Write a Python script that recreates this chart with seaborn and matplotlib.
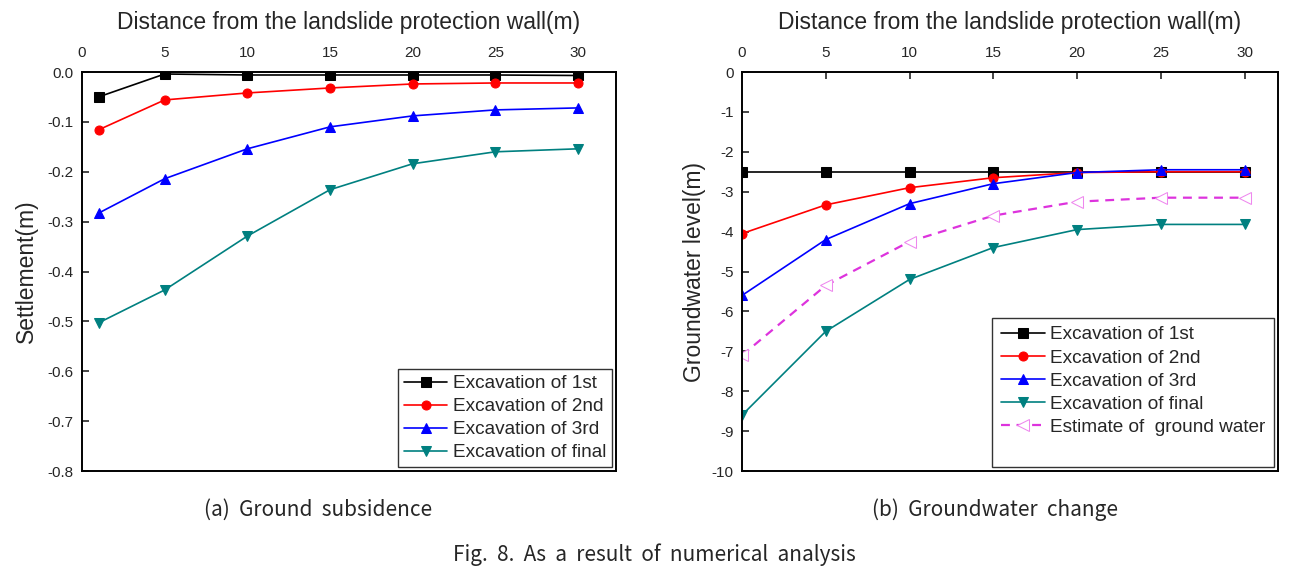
import matplotlib
matplotlib.use('Agg')
import matplotlib.pyplot as plt
import seaborn as sns

# dados
x_settle = [1, 5, 10, 15, 20, 25, 30]
settle_1st = [-0.050, -0.004, -0.006, -0.006, -0.006, -0.006, -0.007]
settle_2nd = [-0.116, -0.056, -0.042, -0.032, -0.024, -0.022, -0.022]
settle_3rd = [-0.283, -0.214, -0.154, -0.110, -0.088, -0.076, -0.072]
settle_final = [-0.503, -0.437, -0.329, -0.236, -0.184, -0.160, -0.154]

x_gw = [0, 5, 10, 15, 20, 25, 30]
gw_1st = [-2.5, -2.5, -2.5, -2.5, -2.5, -2.5, -2.5]
gw_2nd = [-4.05, -3.33, -2.90, -2.65, -2.52, -2.50, -2.50]
gw_3rd = [-5.60, -4.20, -3.30, -2.80, -2.52, -2.45, -2.45]
gw_final = [-8.60, -6.50, -5.20, -4.40, -3.95, -3.82, -3.82]
gw_estimate = [-7.10, -5.35, -4.25, -3.60, -3.25, -3.15, -3.15]

labels = ['Excavation of 1st', 'Excavation of 2nd', 'Excavation of 3rd', 'Excavation of final']
cores = ['black', '#ff0000', '#0000ff', '#008080']
marcadores = ['s', 'o', '^', 'v']

sns.set_style('white')
plt.rcParams['font.family'] = ['Liberation Sans', 'DejaVu Sans']
plt.rcParams['axes.unicode_minus'] = False

fig = plt.figure(figsize=(13.08, 5.74), dpi=100)
ax1 = fig.add_axes([82 / 1308, 1 - 471 / 574, 534 / 1308, 399 / 574])
ax2 = fig.add_axes([742 / 1308, 1 - 471 / 574, 536 / 1308, 399 / 574])

# (a) recalque
for serie, lab, cor, mk in zip([settle_1st, settle_2nd, settle_3rd, settle_final], labels, cores, marcadores):
    sns.lineplot(x=x_settle, y=serie, ax=ax1, color=cor, marker=mk, markersize=6.5,
                 markeredgecolor=cor, linewidth=1.2, label=lab)

# (b) nivel da agua
for serie, lab, cor, mk in zip([gw_1st, gw_2nd, gw_3rd, gw_final], labels, cores, marcadores):
    sns.lineplot(x=x_gw, y=serie, ax=ax2, color=cor, marker=mk, markersize=6.5,
                 markeredgecolor=cor, linewidth=1.2, label=lab)
sns.lineplot(x=x_gw, y=gw_estimate, ax=ax2, color='#dd33dd', marker='<', markersize=8,
             markerfacecolor='white', markeredgecolor='#ee88ee', linewidth=1.6,
             linestyle=(0, (4, 3)), label='Estimate of  ground water')

for ax in (ax1, ax2):
    ax.xaxis.tick_top()
    ax.xaxis.set_label_position('top')
    ax.set_xticks([0, 5, 10, 15, 20, 25, 30])
    ax.tick_params(axis='both', direction='in', length=5, width=1.2, labelsize=11,
                   top=True, bottom=False, left=True, right=False, pad=6)
    ax.tick_params(axis='x', pad=9)
    for s in ax.spines.values():
        s.set_color('black')
        s.set_linewidth(1.4)
    ax.set_xlabel('Distance from the landslide protection wall(m)', fontsize=16.5, labelpad=12)

ax1.set_xlim(0, 32.3)
ax1.set_ylim(-0.8, 0.0)
ax1.set_yticks([0.0, -0.1, -0.2, -0.3, -0.4, -0.5, -0.6, -0.7, -0.8])
ax1.set_yticklabels(['0.0', '-0.1', '-0.2', '-0.3', '-0.4', '-0.5', '-0.6', '-0.7', '-0.8'])
ax1.set_ylabel('Settlement(m)', fontsize=16.5, labelpad=7)

ax2.set_xlim(0, 32)
ax2.set_ylim(-10, 0)
ax2.set_yticks(range(0, -11, -1))
ax2.set_ylabel('Groundwater level(m)', fontsize=16.5, labelpad=4)

leg1 = ax1.legend(loc='lower right', fontsize=13.7, frameon=True, fancybox=False,
                  edgecolor='black', handlelength=2.3, borderaxespad=0.2,
                  labelspacing=0.3, handletextpad=0.3, borderpad=0.3)
leg1.get_frame().set_linewidth(1.0)

# caixa da legenda (b) tem espaco vazio embaixo
h2, l2 = ax2.get_legend_handles_labels()
h2.append(plt.Line2D([], [], linestyle='none'))
l2.append('')
leg2 = ax2.legend(h2, l2, loc='lower right', fontsize=13.7, frameon=True, fancybox=False,
                  edgecolor='black', handlelength=2.3, borderaxespad=0.2,
                  labelspacing=0.3, handletextpad=0.3, borderpad=0.45)
leg2.get_frame().set_linewidth(1.0)

fonte_cap = ['Noto Sans CJK KR', 'DejaVu Sans']
fig.text(318 / 1308, 1 - 510 / 574, '(a)  Ground  subsidence', ha='center', va='center',
         fontsize=15, family=fonte_cap)
fig.text(995 / 1308, 1 - 510 / 574, '(b)  Groundwater  change', ha='center', va='center',
         fontsize=15, family=fonte_cap)
fig.text(654 / 1308, 1 - 555 / 574, 'Fig.  8.  As  a  result  of  numerical  analysis',
         ha='center', va='center', fontsize=15, family=fonte_cap)

plt.savefig('out.png', dpi=100)
